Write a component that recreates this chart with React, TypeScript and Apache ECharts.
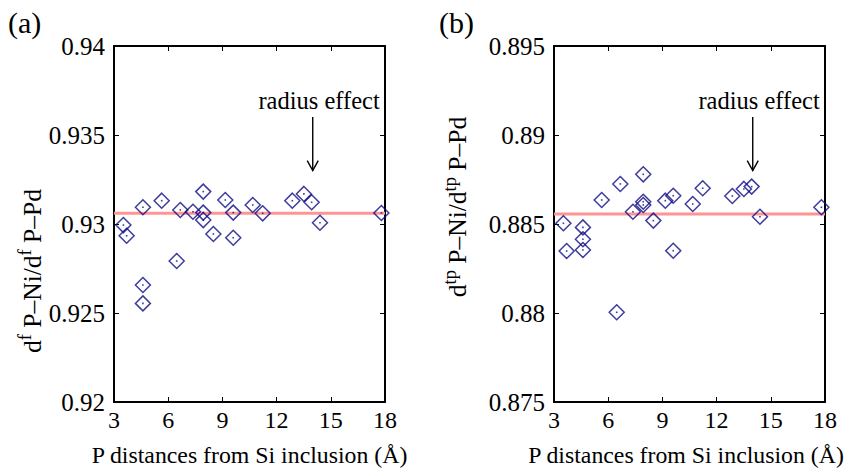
import React, { useEffect, useRef } from "react";
import * as echarts from "echarts";

// P distances from Si inclusion (Å)
const distances = [3.52, 3.7, 4.6, 4.6, 4.6, 5.64, 6.47, 6.67, 7.37, 7.94, 7.94, 7.94, 8.5, 9.16, 9.6, 9.6, 10.68, 11.23, 12.87, 13.51, 13.94, 14.4, 17.8];
// d^f P-Ni / d^f P-Pd
const ratioF = [0.92994, 0.92934, 0.93094, 0.92657, 0.92554, 0.93131, 0.92792, 0.93079, 0.93069, 0.93182, 0.93064, 0.93022, 0.92944, 0.93135, 0.93064, 0.92923, 0.93107, 0.9306, 0.93131, 0.93169, 0.93122, 0.93007, 0.93062];
// d^tp P-Ni / d^tp P-Pd
const ratioTP = [0.88504, 0.88348, 0.88481, 0.88414, 0.88354, 0.88635, 0.88004, 0.88725, 0.88569, 0.88779, 0.88625, 0.88607, 0.88519, 0.88631, 0.88659, 0.8835, 0.88612, 0.88701, 0.88657, 0.88697, 0.8871, 0.88541, 0.88594];
const meanF = 0.9306;
const meanTP = 0.88556;

const xRange = [3, 18];
const xStep = 3;
const yRangeF = [0.92, 0.94];
const yRangeTP = [0.875, 0.895];
const yStep = 0.005;

// annotation "radius effect": [x, yText, yArrowTop, yArrowBottom]
const arrowF = [14.0, 0.93693, 0.93601, 0.933];
const arrowTP = [14.0, 0.89193, 0.89101, 0.888];
const annotationText = "radius effect";
const panelLabels = ["(a)", "(b)"];
const xTitle = "P distances from Si inclusion (Å)";

const FONT = "Liberation Serif";
const NAVY = "#0c0c84";

function fmt(v: number) {
  return String(parseFloat(v.toFixed(3)));
}

function axesFor(grid: number, yr: number[], titlePad: number) {
  const tick = { show: true, inside: true, length: 5, lineStyle: { color: "#000", width: 1 } };
  const line = { show: true, lineStyle: { color: "#000", width: 2 } };
  const xs = [
    {
      type: "value", gridIndex: grid, min: xRange[0], max: xRange[1], interval: xStep, position: "bottom",
      axisLine: line, axisTick: tick, splitLine: { show: false },
      axisLabel: { color: "#000", fontFamily: FONT, fontSize: 24, margin: 6 },
      name: xTitle, nameLocation: "middle", nameGap: 41,
      nameTextStyle: { color: "#000", fontFamily: FONT, fontSize: 23.8, padding: [0, titlePad, 0, 0] },
    },
    {
      type: "value", gridIndex: grid, min: xRange[0], max: xRange[1], interval: xStep, position: "top",
      axisLine: line, axisTick: tick, axisLabel: { show: false }, splitLine: { show: false },
    },
  ];
  const ys = [
    {
      type: "value", gridIndex: grid, min: yr[0], max: yr[1], interval: yStep, position: "left",
      axisLine: line, axisTick: tick, splitLine: { show: false },
      axisLabel: { color: "#000", fontFamily: FONT, fontSize: 25, margin: 9, formatter: fmt },
    },
    {
      type: "value", gridIndex: grid, min: yr[0], max: yr[1], interval: yStep, position: "right",
      axisLine: line, axisTick: tick, axisLabel: { show: false }, splitLine: { show: false },
    },
  ];
  return { xs, ys };
}

export default function App() {
  const ref = useRef<HTMLDivElement>(null);
  useEffect(() => {
    const chart = echarts.init(ref.current!, null, { renderer: "svg" });
    const a = axesFor(0, yRangeF, 0);
    const b = axesFor(1, yRangeTP, 7);
    const pts = (ys: number[]) => distances.map((d, i) => [d, ys[i]]);
    const scatter = (xi: number, yi: number, data: number[][]) => [
      {
        type: "scatter", xAxisIndex: xi, yAxisIndex: yi, data, symbol: "diamond", symbolSize: 15,
        itemStyle: { color: "rgba(0,0,0,0)", borderColor: NAVY, borderWidth: 1.5 }, z: 3,
      },
      {
        type: "scatter", xAxisIndex: xi, yAxisIndex: yi, data, symbol: "rect", symbolSize: 1.6,
        itemStyle: { color: NAVY }, z: 4,
      },
    ];
    const mean = (xi: number, yi: number, m: number) => ({
      type: "line", xAxisIndex: xi, yAxisIndex: yi, data: [[xRange[0], m], [xRange[1], m]],
      symbol: "none", lineStyle: { color: "#ff9494", width: 3 }, z: 2,
    });
    chart.setOption({
      animation: false,
      textStyle: { fontFamily: FONT },
      grid: [
        { left: 114, top: 46, width: 271, height: 356, outerBoundsMode: "none", containLabel: false },
        { left: 554, top: 46, width: 271, height: 356, outerBoundsMode: "none", containLabel: false },
      ],
      xAxis: [...a.xs, ...b.xs],
      yAxis: [...a.ys, ...b.ys],
      series: [
        mean(0, 0, meanF),
        ...scatter(0, 0, pts(ratioF)),
        mean(2, 2, meanTP),
        ...scatter(2, 2, pts(ratioTP)),
      ],
    });

    const ann = (grid: number, arr: number[]) => {
      const t = chart.convertToPixel({ gridIndex: grid }, [arr[0] + 0.35, arr[1]]) as number[];
      const top = chart.convertToPixel({ gridIndex: grid }, [arr[0], arr[2]]) as number[];
      const bot = chart.convertToPixel({ gridIndex: grid }, [arr[0], arr[3]]) as number[];
      return [
        {
          type: "text", x: t[0], y: t[1],
          style: { text: annotationText, fontFamily: FONT, fontSize: 24.5, fill: "#000", align: "center", verticalAlign: "middle" },
        },
        {
          type: "line", shape: { x1: top[0], y1: top[1], x2: bot[0], y2: bot[1] },
          style: { stroke: "#000", lineWidth: 1.4 },
        },
        {
          type: "polyline", shape: { points: [[bot[0] - 5.5, bot[1] - 10], [bot[0], bot[1]], [bot[0] + 5.5, bot[1] - 10]] },
          style: { stroke: "#000", lineWidth: 1.4, fill: null },
        },
      ];
    };
    const rich = {
      m: { fontFamily: FONT, fontSize: 25.5, fill: "#000", lineHeight: 30, verticalAlign: "bottom" },
      s: { fontFamily: FONT, fontSize: 18.5, fill: "#000", lineHeight: 30, verticalAlign: "top" },
    };
    chart.setOption({
      graphic: [
        { type: "text", x: 8, y: 22, style: { text: panelLabels[0], fontFamily: FONT, fontSize: 30, fill: "#000", verticalAlign: "middle" } },
        { type: "text", x: 439, y: 22, style: { text: panelLabels[1], fontFamily: FONT, fontSize: 30, fill: "#000", verticalAlign: "middle" } },
        {
          type: "text", x: 30, y: 271, rotation: Math.PI / 2,
          style: { text: "{m|d}{s|f}{m| P–Ni/d}{s|f}{m| P–Pd}", rich, fontFamily: FONT, align: "center", verticalAlign: "middle" },
        },
        {
          type: "text", x: 455, y: 207, rotation: Math.PI / 2,
          style: { text: "{m|d}{s|tp}{m| P–Ni/d}{s|tp}{m| P–Pd}", rich, fontFamily: FONT, align: "center", verticalAlign: "middle" },
        },
        ...ann(0, arrowF),
        ...ann(1, arrowTP),
      ],
    });
    return () => chart.dispose();
  }, []);
  return <div ref={ref} style={{ position: "absolute", left: 0, top: 0, width: 847, height: 470, background: "#fff" }} />;
}
